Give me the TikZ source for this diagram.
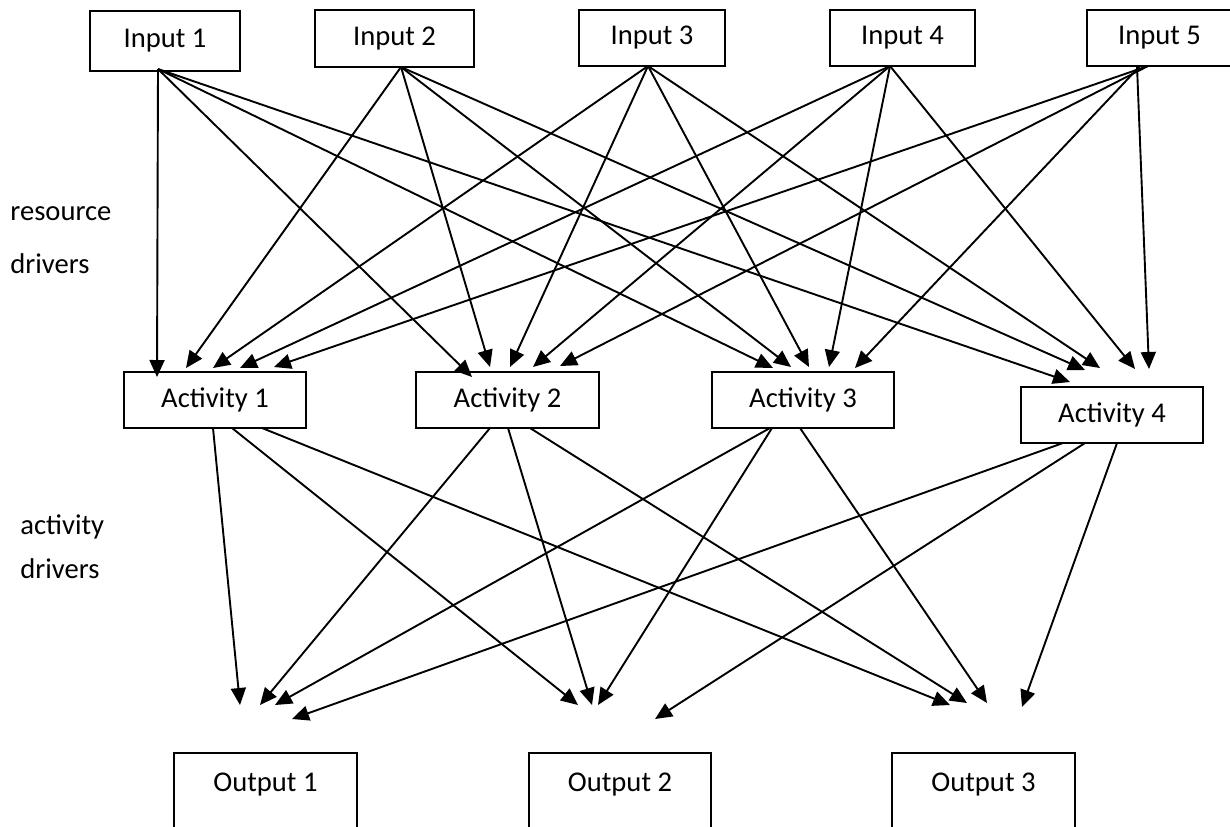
\documentclass[tikz,border=0pt]{standalone}
\usepackage{fontspec}
\setmainfont{Carlito}
\usetikzlibrary{arrows.meta,calc}
\tikzset{
  box/.style={
    draw,
    line width=1pt,
    inner sep=0pt,
    outer sep=0pt,
    font=\fontsize{14.3}{17}\selectfont
  },
  lbl/.style={
    inner sep=0pt,
    font=\fontsize{14.3}{17}\selectfont
  },
  link/.style={
    -{Triangle[length=8.5pt,width=7.5pt]},
    line width=0.95pt
  }
}

\begin{document}
\begin{tikzpicture}[x=0.5pt,y=-0.5pt]
    \useasboundingbox (0,0) rectangle (1230,826);
    \clip (0,0) rectangle (1230,826);

    \node[box,minimum width=75pt,minimum height=30pt] (in1) at (165,41) {Input 1};
    \node[box,minimum width=79.5pt,minimum height=28.5pt] (in2) at (394.5,38.5) {Input 2};
    \node[box,minimum width=73pt,minimum height=28pt] (in3) at (652,38) {Input 3};
    \node[box,minimum width=72.5pt,minimum height=28pt] (in4) at (902.5,38) {Input 4};
    \node[box,minimum width=72.5pt,minimum height=28pt] (in5) at (1159.5,38) {Input 5};

    \node[box,minimum width=91pt,minimum height=28pt] (act1) at (215,400) {Activity 1};
    \node[box,minimum width=91.5pt,minimum height=28pt] (act2) at (507.5,400) {Activity 2};
    \node[box,minimum width=91pt,minimum height=28pt] (act3) at (803,400) {Activity 3};
    \node[box,minimum width=91pt,minimum height=28pt] (act4) at (1112,415) {Activity 4};

    \node[box,anchor=north,minimum width=91.5pt,text height=19pt,text depth=60pt] (out1) at (265.5,753) {Output 1};
    \node[box,anchor=north,minimum width=91pt,text height=19pt,text depth=60pt] (out2) at (620,753) {Output 2};
    \node[box,anchor=north,minimum width=91.5pt,text height=19pt,text depth=60pt] (out3) at (983.5,753) {Output 3};

    \node[lbl,anchor=base west] (res1) at (10,220) {resource};
    \node[lbl,anchor=base west] (res2) at (10,273) {drivers};
    \node[lbl,anchor=base west] (adr1) at (20,534) {activity};
    \node[lbl,anchor=base west] (adr2) at (20,578) {drivers};

    \draw[link] ($(in1.south)+(-7,-2)$) -- ($(act1.north west)+(33,5)$);
    \draw[link] ($(in1.south)+(-7,-2)$) -- ($(act2.north west)+(56,5)$);
    \draw[link] ($(in1.south)+(-7,-2)$) -- ($(act3.north west)+(61,-4)$);
    \draw[link] ($(in1.south)+(-7,-2)$) -- ($(act4.north west)+(49,-5)$);

    \draw[link] ($(in2.south)+(6.5,0)$) -- ($(act1.north west)+(62,-4)$);
    \draw[link] ($(in2.south)+(6.5,0)$) -- ($(act2.north west)+(74,-5)$);
    \draw[link] ($(in2.south)+(6.5,0)$) -- ($(act3.north west)+(79,-5)$);
    \draw[link] ($(in2.south)+(6.5,0)$) -- ($(act4.north west)+(64,-17)$);

    \draw[link] ($(in3.south)+(-4,0)$) -- ($(act1.north west)+(89,-4)$);
    \draw[link] ($(in3.south)+(-4,0)$) -- ($(act2.north west)+(94,-5)$);
    \draw[link] ($(in3.south)+(-4,0)$) -- ($(act3.north west)+(97,-5)$);
    \draw[link] ($(in3.south)+(-4,0)$) -- ($(act4.north west)+(79,-19)$);

    \draw[link] ($(in4.south)+(-12.5,0)$) -- ($(act1.north west)+(116,-4)$);
    \draw[link] ($(in4.south)+(-12.5,0)$) -- ($(act2.north west)+(117,-5)$);
    \draw[link] ($(in4.south)+(-12.5,0)$) -- ($(act3.north west)+(117,-5)$);
    \draw[link] ($(in4.south)+(-12.5,0)$) -- ($(act4.north west)+(114,-18)$);

    \draw[link] ($(in5.south)+(-11.5,0)$) -- ($(act1.north west)+(150,-5)$);
    \draw[link] ($(in5.south)+(-11.5,0)$) -- ($(act2.north west)+(144,-6)$);
    \draw[link] ($(in5.south)+(-19.5,0)$) -- ($(act3.north west)+(143,-4)$);
    \draw[link] ($(in5.south)+(-22.5,0)$) -- ($(act4.north west)+(128,-18)$);

    \draw[link] ($(act1.south)+(-2,0)$) -- ($(out1.north)+(-25.5,-48)$);
    \draw[link] ($(act1.south)+(17,0)$) -- ($(out2.north)+(-42,-48)$);
    \draw[link] ($(act1.south)+(47,0)$) -- ($(out3.north)+(-33.5,-48)$);

    \draw[link] ($(act2.south)+(-17.5,0)$) -- ($(out1.north)+(-5.5,-48)$);
    \draw[link] ($(act2.south)+(0.5,0)$) -- ($(out2.north)+(-28,-48)$);
    \draw[link] ($(act2.south)+(22.5,0)$) -- ($(out3.north)+(-16.5,-50)$);

    \draw[link] ($(act3.south)+(-33,0)$) -- ($(out1.north)+(9.5,-48)$);
    \draw[link] ($(act3.south)+(-31,0)$) -- ($(out2.north)+(-22,-48)$);
    \draw[link] ($(act3.south)+(-3,0)$) -- ($(out3.north)+(3.5,-50)$);

    \draw[link] ($(act4.south)+(-49,0)$) -- ($(out1.north)+(26.5,-34)$);
    \draw[link] ($(act4.south)+(-27,0)$) -- ($(out2.north)+(35,-34)$);
    \draw[link] ($(act4.south)+(5,0)$) -- ($(out3.north)+(38.5,-46)$);
\end{tikzpicture}
\end{document}
